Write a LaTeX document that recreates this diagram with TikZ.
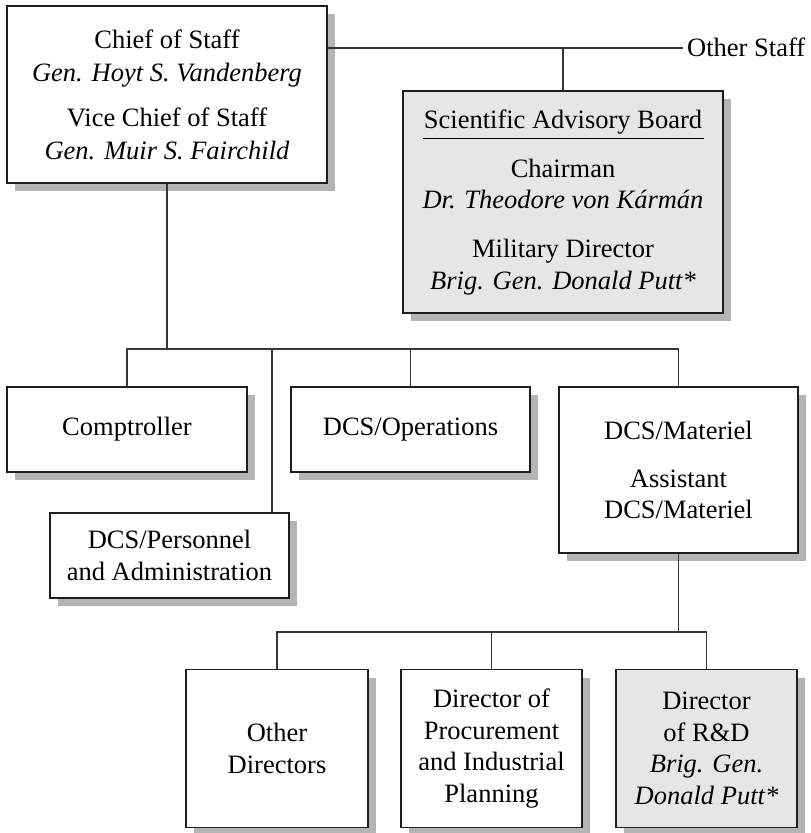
\documentclass[tikz,border=0pt]{standalone}
\usepackage{fontspec}
\setmainfont{Liberation Serif}
\usetikzlibrary{shadows}
\definecolor{shadowgray}{RGB}{180,180,180}
\definecolor{boxgray}{RGB}{230,230,230}
\definecolor{linegray}{RGB}{55,55,55}
\definecolor{bordergray}{RGB}{30,30,30}
\begin{document}
\begin{tikzpicture}[x=1pt,y=-1pt,
  orgbox/.style={draw=bordergray, line width=1.7pt, fill=white, inner sep=0pt,
    align=center, font=\fontsize{26.5}{31.5}\selectfont,
    general shadow={fill=shadowgray, draw=none, shadow xshift=8pt, shadow yshift=-8pt}},
  graybox/.style={orgbox, fill=boxgray},
  link/.style={draw=linegray, line width=1.6pt},
  plain/.style={inner sep=0pt, font=\fontsize{26.5}{31.5}\selectfont}]
\useasboundingbox (0,0) rectangle (811,833);

% boxes
\node[orgbox, font=\fontsize{26.5}{33}\selectfont, minimum width=320pt, minimum height=177pt] (chief) at (167,94.5)
  {Chief of Staff\\\textit{Gen. Hoyt S. Vandenberg}\\[12pt]Vice Chief of Staff\\\textit{Gen. Muir S. Fairchild}};
\node[graybox, minimum width=320pt, minimum height=222pt] (sab) at (563,202)
  {Scientific Advisory Board\\[-20.5pt]\rule{281pt}{1pt}\\[6.5pt]Chairman\\\textit{Dr. Theodore von Kármán}\\[17.5pt]Military Director\\\textit{Brig. Gen. Donald Putt*}};
\node[orgbox, minimum width=240pt, minimum height=85pt] (comp) at (127,429.5) {Comptroller};
\node[orgbox, minimum width=239pt, minimum height=85pt] (ops) at (410.5,429.5) {DCS/Operations};
\node[orgbox, minimum width=239pt, minimum height=166pt] (mat) at (678.5,470)
  {DCS/Materiel\\[16.5pt]Assistant\\DCS/Materiel};
\node[orgbox, minimum width=239pt, minimum height=85pt] (pers) at (169.5,555.5)
  {DCS/Personnel\\and Administration};
\node[orgbox, minimum width=182pt, minimum height=158pt] (othd) at (277,748.5)
  {Other\\Directors};
\node[orgbox, minimum width=181pt, minimum height=158pt] (proc) at (491.5,748.5)
  {Director of\\Procurement\\and Industrial\\Planning};
\node[graybox, minimum width=181pt, minimum height=158pt] (rd) at (706.5,748.5)
  {Director\\of R\&D\\\textit{Brig. Gen.}\\\textit{Donald Putt*}};

\node[plain, anchor=base west] (other) at (687,56) {Other Staff};

% junction coordinates
\coordinate (osj) at (683,48);
\coordinate (busA) at (0,349);
\coordinate (pj) at (272,349);
\coordinate (busB) at (0,632);

% connectors
\draw[link] (chief.east |- osj) -- (osj);
\draw[link] (sab.north) -- (sab.north |- osj);
\draw[link] (chief.south) -- (chief.south |- busA);
\draw[link] (comp.north) -- (comp.north |- busA) -- (mat.north |- busA) -- (mat.north);
\draw[link] (ops.north) -- (ops.north |- busA);
\draw[link] (pj) -- (pj |- pers.north);
\draw[link] (mat.south) -- (mat.south |- busB);
\draw[link] (othd.north) -- (othd.north |- busB) -- (rd.north |- busB) -- (rd.north);
\draw[link] (proc.north) -- (proc.north |- busB);
\end{tikzpicture}
\end{document}
